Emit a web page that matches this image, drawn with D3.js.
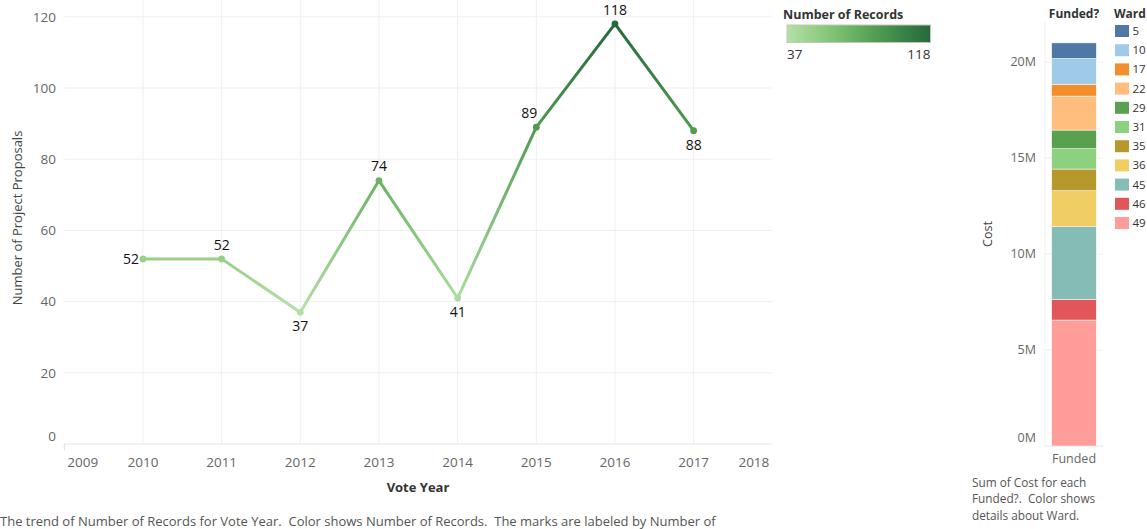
<!DOCTYPE html>
<html><head><meta charset="utf-8">
<script src="https://cdn.jsdelivr.net/npm/d3@7"></script>
<style>
body{margin:0;background:#fff;}
svg{font-family:"Open Sans","Noto Sans",sans-serif;}
text{white-space:pre;}
</style></head>
<body><svg id="c" width="1147" height="529"></svg>
<script>
// ---- data ----
const years = [2010, 2011, 2012, 2013, 2014, 2015, 2016, 2017];
const records = [52, 52, 37, 74, 41, 89, 118, 88];
const yearTicks = [2009, 2010, 2011, 2012, 2013, 2014, 2015, 2016, 2017, 2018];
const countTicks = [0, 20, 40, 60, 80, 100, 120];
const labelPos = ["left", "above", "below", "above", "below", "aboveleft", "above", "below"];

const wards = ["5", "10", "17", "22", "29", "31", "35", "36", "45", "46", "49"];
const wardCost = [0.81, 1.35, 0.61, 1.77, 0.97, 1.06, 1.13, 1.875, 3.78, 1.08, 6.56]; // millions
const wardColors = ["#4e79a7", "#a0cbe8", "#f28e2b", "#ffbe7d", "#59a14f", "#8cd17d", "#b6992d", "#f1ce63", "#86bcb6", "#e15759", "#ff9d9a"];
const costTicks = [0, 5, 10, 15, 20];
const fundedCats = ["Funded"];

const svg = d3.select("#c");
const gray = "#666";

// ---- line chart ----
const x = d3.scaleLinear().domain([2009, 2018]).range([64.3, 772.3]);
const y = d3.scaleLinear().domain([0, 120]).range([444, 16.8]);
const colorStops = ["#b3e0a6", "#8ccb7e", "#63ad5c", "#3f8b48", "#24693d"];
const color = d3.scaleSequential(d3.interpolateRgbBasis(colorStops)).domain([37, 118]);

const g = svg.append("g");
// gridlines
g.selectAll(".hg").data(countTicks).join("line")
  .attr("x1", 64.3).attr("x2", 772.3).attr("y1", d => y(d)).attr("y2", d => y(d))
  .attr("stroke", d => d === 0 ? "#e6e6e6" : "#efefef").attr("stroke-width", 1);
g.selectAll(".vg").data(yearTicks.slice(1, -1)).join("line")
  .attr("x1", d => x(d)).attr("x2", d => x(d)).attr("y1", 0).attr("y2", 444)
  .attr("stroke", "#efefef");
g.append("line").attr("x1", x(2009)).attr("x2", x(2009)).attr("y1", 444).attr("y2", 450).attr("stroke", "#e0e0e0");

// y tick labels
g.selectAll(".yt").data(countTicks).join("text")
  .attr("x", 56).attr("y", d => d === 0 ? y(d) - 8 : y(d))
  .attr("dy", "0.35em").attr("text-anchor", "end")
  .attr("font-size", 13.5).attr("fill", gray).text(d => d);
// x tick labels
g.selectAll(".xt").data(yearTicks).join("text")
  .attr("x", (d, i) => i === 0 ? x(d) + 3 : i === yearTicks.length - 1 ? x(d) - 3 : x(d))
  .attr("y", 462).attr("dy", "0.35em")
  .attr("text-anchor", (d, i) => i === 0 ? "start" : i === yearTicks.length - 1 ? "end" : "middle")
  .attr("font-size", 13.5).attr("fill", gray).text(d => d);

g.append("text").attr("x", 418).attr("y", 487).attr("dy", "0.35em").attr("text-anchor", "middle")
  .attr("font-size", 13).attr("font-weight", "bold").attr("fill", "#333").text("Vote Year");
g.append("text").attr("transform", "translate(17,218) rotate(-90)").attr("dy", "0.35em")
  .attr("text-anchor", "middle").attr("font-size", 13).attr("fill", "#444").text("Number of Project Proposals");

// segments with gradients
const defs = svg.append("defs");
const pts = years.map((yr, i) => ({ yr, v: records[i] }));
for (let i = 0; i < pts.length - 1; i++) {
  const a = pts[i], b = pts[i + 1];
  const gid = "seg" + i;
  const lg = defs.append("linearGradient").attr("id", gid).attr("gradientUnits", "userSpaceOnUse")
    .attr("x1", x(a.yr)).attr("y1", y(a.v)).attr("x2", x(b.yr)).attr("y2", y(b.v));
  lg.append("stop").attr("offset", "0%").attr("stop-color", color(a.v));
  lg.append("stop").attr("offset", "100%").attr("stop-color", color(b.v));
  g.append("line").attr("x1", x(a.yr)).attr("y1", y(a.v)).attr("x2", x(b.yr)).attr("y2", y(b.v))
    .attr("stroke", `url(#${gid})`).attr("stroke-width", 3).attr("stroke-linecap", "round");
}
g.selectAll(".pt").data(pts).join("circle")
  .attr("cx", d => x(d.yr)).attr("cy", d => y(d.v)).attr("r", 3.4).attr("fill", d => color(d.v));
g.selectAll(".lb").data(pts).join("text")
  .attr("x", (d, i) => labelPos[i] === "left" ? x(d.yr) - 4 : labelPos[i] === "aboveleft" ? x(d.yr) - 7 : x(d.yr))
  .attr("y", (d, i) => labelPos[i] === "left" ? y(d.v) : labelPos[i] === "below" ? y(d.v) + 14 : y(d.v) - 14)
  .attr("dy", "0.35em")
  .attr("text-anchor", (d, i) => labelPos[i] === "left" ? "end" : "middle")
  .attr("font-size", 14).attr("fill", "#111").text(d => d.v);

g.append("text").attr("x", 0).attr("y", 521).attr("dy", "0.35em").attr("font-size", 13).attr("fill", "#555")
  .text("The trend of Number of Records for Vote Year.  Color shows Number of Records.  The marks are labeled by Number of");

// ---- color legend ----
const lgX0 = 787, lgX1 = 930.5;
svg.append("text").attr("x", 783).attr("y", 15).attr("dy", "0.35em").attr("font-size", 12.5)
  .attr("font-weight", "bold").attr("fill", "#333").text("Number of Records");
const lgGrad = defs.append("linearGradient").attr("id", "lg");
d3.range(0, 1.0001, 0.1).forEach(t => {
  lgGrad.append("stop").attr("offset", (t * 100) + "%").attr("stop-color", color(37 + t * (118 - 37)));
});
svg.append("rect").attr("x", lgX0).attr("y", 25).attr("width", lgX1 - lgX0).attr("height", 17.5)
  .attr("fill", "url(#lg)").attr("stroke", "#c8c4b8").attr("stroke-width", 1);
svg.append("text").attr("x", lgX0).attr("y", 54).attr("dy", "0.35em").attr("font-size", 13.5).attr("fill", "#333").text(37);
svg.append("text").attr("x", lgX1).attr("y", 54).attr("dy", "0.35em").attr("text-anchor", "end").attr("font-size", 13.5).attr("fill", "#333").text(118);

// ---- stacked bar ----
const yb = d3.scaleLinear().domain([0, 20]).range([446, 62]);
const xb = d3.scaleBand().domain(fundedCats).range([1045, 1103]).paddingInner(0.2).paddingOuter(0.12);
const bg = svg.append("g");
bg.selectAll(".bgl").data(costTicks).join("line")
  .attr("x1", 1045).attr("x2", 1103).attr("y1", d => yb(d)).attr("y2", d => yb(d))
  .attr("stroke", d => d === 0 ? "#e6e6e6" : "#f0f0f0");
bg.append("line").attr("x1", 1045).attr("x2", 1045).attr("y1", 22).attr("y2", 446).attr("stroke", "#f0f0f0");
bg.selectAll(".bt").data(costTicks).join("text")
  .attr("x", 1036).attr("y", d => d === 0 ? yb(d) - 8 : yb(d)).attr("dy", "0.35em")
  .attr("text-anchor", "end").attr("font-size", 12.5).attr("fill", gray).text(d => d + "M");
bg.append("text").attr("transform", "translate(988,234) rotate(-90)").attr("dy", "0.35em")
  .attr("text-anchor", "middle").attr("font-size", 12.5).attr("fill", "#444").text("Cost");

const stackData = [];
let acc = 0;
for (let i = wards.length - 1; i >= 0; i--) {
  stackData.push({ ward: wards[i], y0: acc, y1: acc + wardCost[i], c: wardColors[i] });
  acc += wardCost[i];
}
bg.selectAll(".seg").data(stackData).join("rect")
  .attr("x", xb("Funded")).attr("width", xb.bandwidth())
  .attr("y", d => yb(d.y1)).attr("height", d => yb(d.y0) - yb(d.y1))
  .attr("fill", d => d.c).attr("stroke", "#fff").attr("stroke-width", 0.5);
bg.append("text").attr("x", xb("Funded") + xb.bandwidth() / 2).attr("y", 459).attr("dy", "0.35em")
  .attr("text-anchor", "middle").attr("font-size", 12.5).attr("fill", gray).text("Funded");
bg.append("text").attr("x", 1074).attr("y", 14).attr("dy", "0.35em").attr("text-anchor", "middle")
  .attr("font-size", 12).attr("font-weight", "bold").attr("fill", "#333").text("Funded?");

["Sum of Cost for each", "Funded?.  Color shows", "details about Ward."].forEach((t, i) => {
  svg.append("text").attr("x", 972).attr("y", 483 + i * 16.3).attr("dy", "0.35em")
    .attr("font-size", 11.8).attr("fill", "#555").text(t);
});

// ---- ward legend ----
svg.append("text").attr("x", 1114).attr("y", 14).attr("dy", "0.35em").attr("font-size", 12)
  .attr("font-weight", "bold").attr("fill", "#333").text("Ward");
const lgRows = svg.selectAll(".wl").data(wards).join("g")
  .attr("transform", (d, i) => `translate(1115,${31 + i * 19.2})`);
lgRows.append("rect").attr("x", 0).attr("y", -6).attr("width", 14).attr("height", 12)
  .attr("fill", (d, i) => wardColors[i]);
lgRows.append("text").attr("x", 17.5).attr("y", 0).attr("dy", "0.35em").attr("font-size", 11.5)
  .attr("fill", "#333").text(d => d);
</script></body></html>
